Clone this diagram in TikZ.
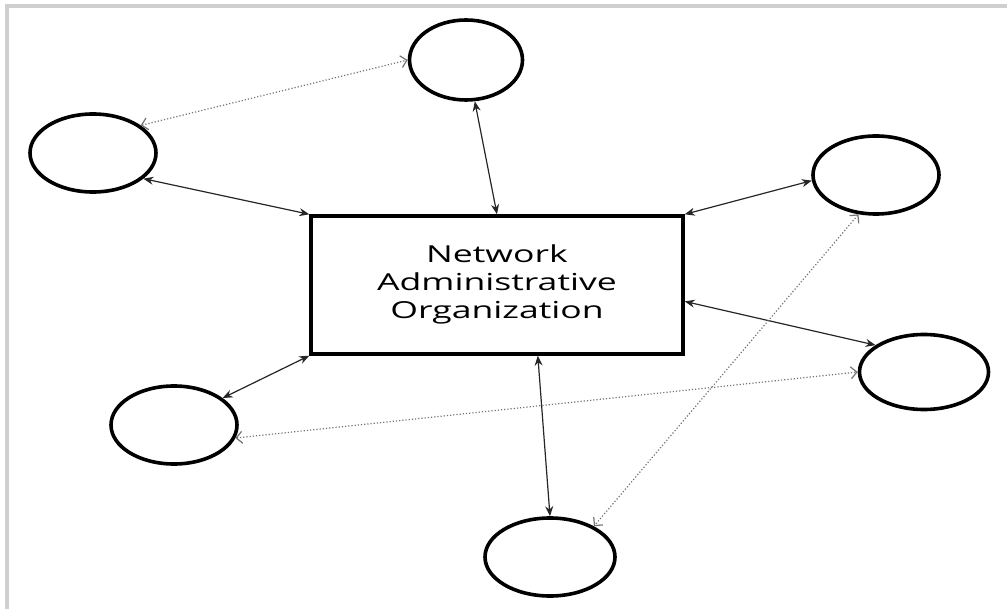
\documentclass[tikz,border=0pt]{standalone}
\usepackage{fontspec}
\setsansfont{Open Sans}
\usepackage{graphicx}
\usetikzlibrary{arrows.meta,shapes.geometric}

\begin{document}
\begin{tikzpicture}[
	x=0.5pt, y=-0.5pt,
	font=\sffamily,
	% style for the member circles
	member/.style={ellipse, draw=black, line width=1.8pt, minimum width=63pt, minimum height=39pt, inner sep=0pt},
	% style for the central box
	naobox/.style={rectangle, draw=black, line width=1.7pt, minimum width=186pt, minimum height=69pt, inner sep=0pt, text=black},
	% arrows between box and members (solid, 2 heads)
	link_arrow/.style={
		<->, >={Stealth[length=5pt,width=4pt]},
		black!85, line width=0.6pt
	},
	% arrows between members (dotted, open heads)
	tie_arrow/.style={
		<->, >={Straight Barb[length=3pt,width=6pt]},
		black!55, line width=0.6pt, densely dotted
	}
	]
	\useasboundingbox (0,0) rectangle (1007,609);
	
	% --- FRAME ---
	\draw[black!19, line width=2pt] (7,609) |- (1007,6);
	
	% --- CENTRAL BOX ---
	\node[naobox] (nao) at (497,285) {\scalebox{1.52}[1]{\fontsize{11.7}{14}\selectfont
		\begin{tabular}{@{}c@{}}Network\\Administrative\\Organization\end{tabular}}};
	
	% --- MEMBERS ---
	\node[member, minimum width=56.5pt, minimum height=40pt] (m1) at (466,60) {};
	\node[member] (m2) at (93,153) {};
	\node[member] (m3) at (876,175) {};
	\node[member, minimum width=64.5pt, minimum height=37.5pt] (m4) at (924,372) {};
	\node[member] (m5) at (174,425) {};
	\node[member, minimum width=65pt] (m6) at (550,557) {};
	
	% --- BOX <-> MEMBERS ---
	\draw[link_arrow] (m2.-27) -- (nao.north west);
	\draw[link_arrow] (m1.-78) -- (nao.north);
	\draw[link_arrow] (m3.185) -- (nao.north east);
	\draw[link_arrow] (nao.-5) -- (m4.151);
	\draw[link_arrow] (nao.south west) -- (m5.29);
	\draw[link_arrow] (nao.-60) -- (m6.north);
	
	% --- MEMBER <-> MEMBER ---
	\draw[tie_arrow] (m2.30) -- (m1.west);
	\draw[tie_arrow] (m3.246) -- (m6.35);
	\draw[tie_arrow] (m5.-12) -- (m4.west);
	
\end{tikzpicture}
\end{document}
